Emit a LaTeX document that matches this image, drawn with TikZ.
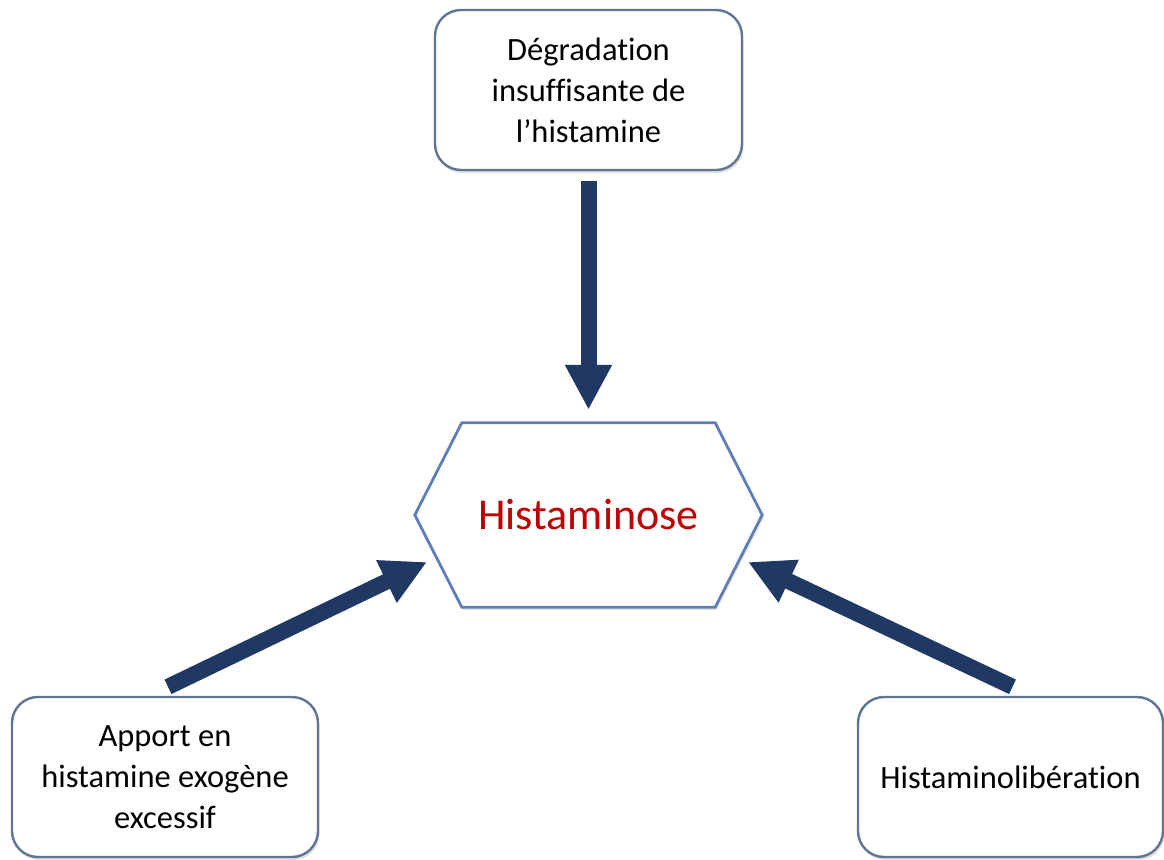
\documentclass[tikz,border=0pt]{standalone}
\usepackage{fontspec}
\setmainfont[Ligatures=NoCommon]{Carlito}
\usetikzlibrary{arrows.meta,shadows}
\definecolor{navy}{RGB}{31,56,100}
\definecolor{boxedge}{RGB}{96,116,150}
\definecolor{hexedge}{RGB}{95,125,185}
\definecolor{redtxt}{RGB}{192,0,0}
\tikzset{
  causebox/.style={draw=boxedge, line width=2.4pt, rounded corners=26pt, fill=white,
    align=center, inner sep=0pt, minimum height=160pt,
    font=\fontsize{32.5}{41}\selectfont,
    drop shadow={shadow xshift=1.5pt, shadow yshift=-3pt, opacity=0.25}},
  bigarrow/.style={draw=navy, line width=16pt,
    -{Triangle[length=45pt,width=44pt]}},
  hexline/.style={draw=hexedge, line width=2.8pt, fill=white, line join=miter,
    drop shadow={shadow xshift=1.5pt, shadow yshift=-3pt, opacity=0.2}}
}
\begin{document}
\begin{tikzpicture}[x=1pt,y=-1pt]
\useasboundingbox (0,0) rectangle (1164,859);
% boxes
\node[causebox, minimum width=307pt] (top) at (588.5,90) {Dégradation\\insuffisante de\\l’histamine};
\node[causebox, minimum width=306pt] (left) at (165,777) {Apport en\\histamine exogène\\excessif};
\node[causebox, minimum width=305pt] (right) at (1010.5,777) {Histaminolibération};
% hexagon
\node[minimum width=347pt, minimum height=184pt, inner sep=0pt] (hex) at (588.5,515) {};
\path[hexline] (hex.west) -- ([xshift=47pt]hex.north west) -- ([xshift=-47pt]hex.north east)
  -- (hex.east) -- ([xshift=-47pt]hex.south east) -- ([xshift=47pt]hex.south west) -- cycle;
\node[text=redtxt, font=\fontsize{44}{50}\selectfont] (label) at (hex.center) {Histaminose};
% arrows
\coordinate (ltip) at (427,562);
\coordinate (rtip) at (748,562);
\draw[bigarrow] ([yshift=-10pt]top.south) -- ([yshift=13pt]hex.north);
\draw[bigarrow] ([xshift=3pt,yshift=9pt]left.north) -- (ltip);
\draw[bigarrow] ([xshift=2pt,yshift=9pt]right.north) -- (rtip);
\end{tikzpicture}
\end{document}
